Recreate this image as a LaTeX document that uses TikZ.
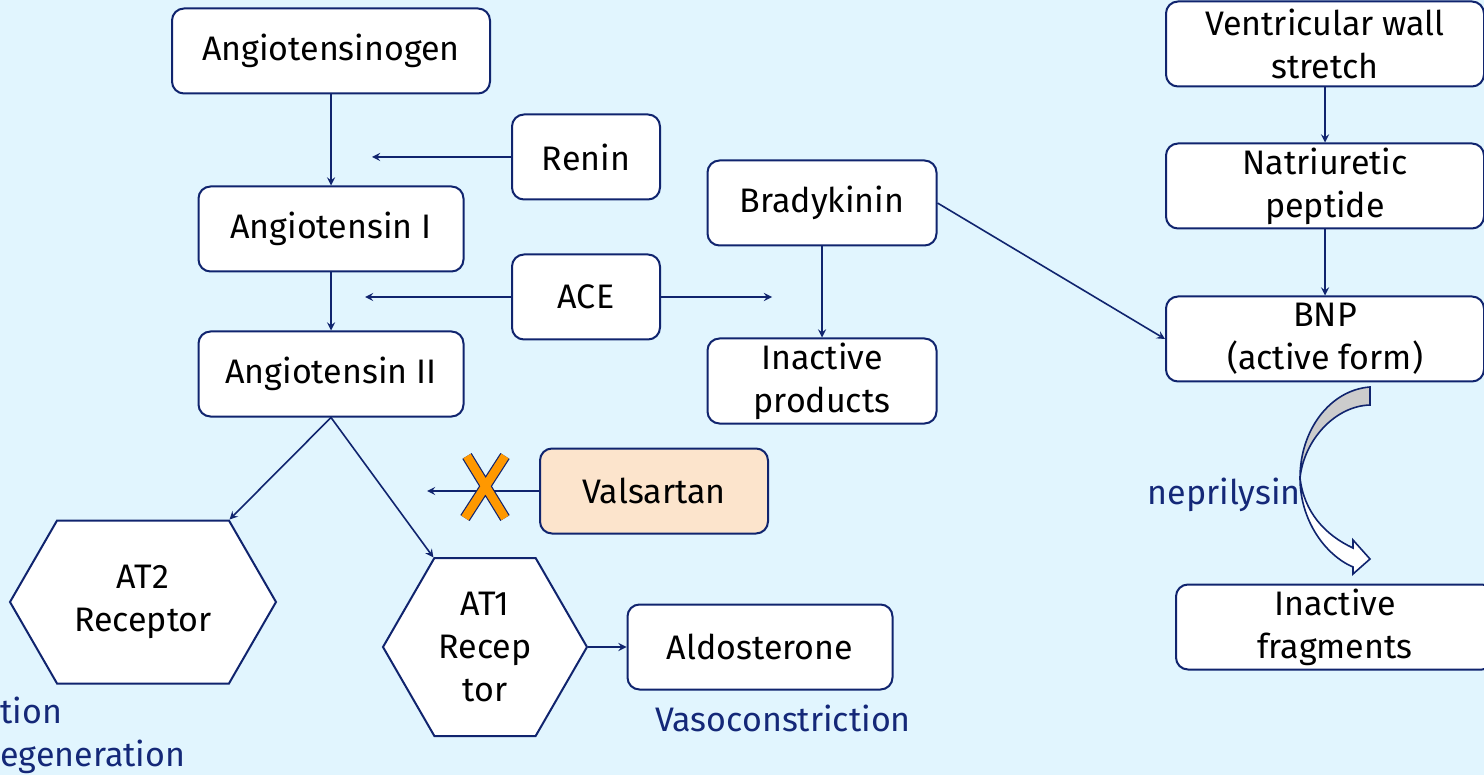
\documentclass[tikz,border=0pt]{standalone}
\usepackage{fontspec}
\setmainfont{Fira Sans}
\usetikzlibrary{arrows,shapes,positioning}
\definecolor{navyline}{RGB}{16,36,110}
\definecolor{bgblue}{RGB}{225,245,254}
\definecolor{peach}{RGB}{252,228,204}
\definecolor{xorange}{RGB}{255,152,0}
\definecolor{labelblue}{RGB}{20,40,120}

\begin{document}
\begin{tikzpicture}[x=0.5pt,y=-0.5pt, >=stealth,
    box/.style={draw=navyline,line width=1pt,rounded corners=6pt,fill=white,minimum height=42.5pt,
                align=center,inner sep=2pt,font=\fontsize{17}{21.5}\selectfont},
    hexa/.style={signal,signal to=west and east,signal pointer angle=120,draw=navyline,line width=1pt,
                fill=white,align=center,inner sep=0pt,font=\fontsize{17}{21.5}\selectfont},
    note/.style={text=labelblue,font=\fontsize{17}{21.5}\selectfont,inner sep=0pt},
    link/.style={->,color=navyline,line width=0.8pt}]
        \fill[bgblue] (0,0) rectangle (1484,775);
        \useasboundingbox (0,0) rectangle (1484,775);

        % RAAS chain
        \node[box,minimum width=159pt]   (agen)  at (331,51)   {Angiotensinogen};
        \node[box,minimum width=74pt]    (renin) at (586,157)  {Renin};
        \node[box,minimum width=132.5pt] (ang1)  at (331,229)  {Angiotensin I};
        \node[box,minimum width=74pt]    (ace)   at (586,297)  {ACE};
        \node[box,minimum width=132.5pt] (ang2)  at (331,374)  {Angiotensin II};
        \node[box,minimum width=114.5pt] (brady) at (822,203)  {Bradykinin};
        \node[box,minimum width=114.5pt] (inact) at (822,381)  {Inactive\\products};
        \node[box,minimum width=114pt,fill=peach] (vals) at (654,491) {Valsartan};
        \node[hexa,minimum width=133pt,minimum height=81.5pt] (at2) at (143,602) {AT2\\Receptor};
        \node[hexa,minimum width=102pt,minimum height=89pt]   (at1) at (485,647) {AT1\\Recep\\tor};
        \node[box,minimum width=132.5pt] (aldo)  at (760,647)  {Aldosterone};
        \node[note] (vasoc) at (783,718) {Vasoconstriction};
        \node[note,anchor=north west,align=left] (vasod) at (0,697) {tion\\egeneration};

        % natriuretic side
        \node[box,minimum width=159pt] (vws)  at (1325,44)  {Ventricular wall\\stretch};
        \node[box,minimum width=159pt] (natp) at (1325,186) {Natriuretic\\peptide};
        \node[box,minimum width=159pt] (bnp)  at (1325,339) {BNP\\(active form)};
        \node[box,minimum width=159pt] (infr) at (1335,627) {Inactive\\fragments};
        \node[note,anchor=east] (nep) at (1301,495) {neprilysin};

        \coordinate (reninend) at (372,157);
        \coordinate (aceleft)  at (365,297);
        \coordinate (aceright) at (772,297);
        \coordinate (valsend)  at (427,491);

        \path[link]
                (agen)  edge (ang1)
                (ang1)  edge (ang2)
                (renin) edge (reninend)
                (ace.west) edge (aceleft)
                (ace.east) edge (aceright)
                (brady) edge (inact)
                (brady.east) edge (bnp.west)
                (vws)   edge (natp)
                (natp)  edge (bnp)
                (ang2.south) edge (at2.north east)
                (ang2.south) edge (at1.north west)
                (at1.east) edge (aldo.west)
                (vals.west) edge (valsend);

        % blocked by valsartan
        \draw[navyline,line width=5.5pt] (467,456) -- (505,518) (505,456) -- (465,518);
        \draw[xorange,line width=4.3pt]  (467,456) -- (505,518) (505,456) -- (465,518);

        % neprilysin curved arrow
        \draw[navyline,line width=0.8pt,fill=gray!40]
                (1370,387) .. controls (1330,390) and (1300,430) .. (1300,478)
                .. controls (1304,440) and (1335,406) .. (1370,405) -- cycle;
        \draw[navyline,line width=0.8pt,fill=white]
                (1300,478) .. controls (1300,520) and (1325,555) .. (1353,567)
                -- (1353,574) -- (1370,559) -- (1353,540) -- (1353,548)
                .. controls (1325,535) and (1304,512) .. (1300,478) -- cycle;
\end{tikzpicture}
\end{document}
